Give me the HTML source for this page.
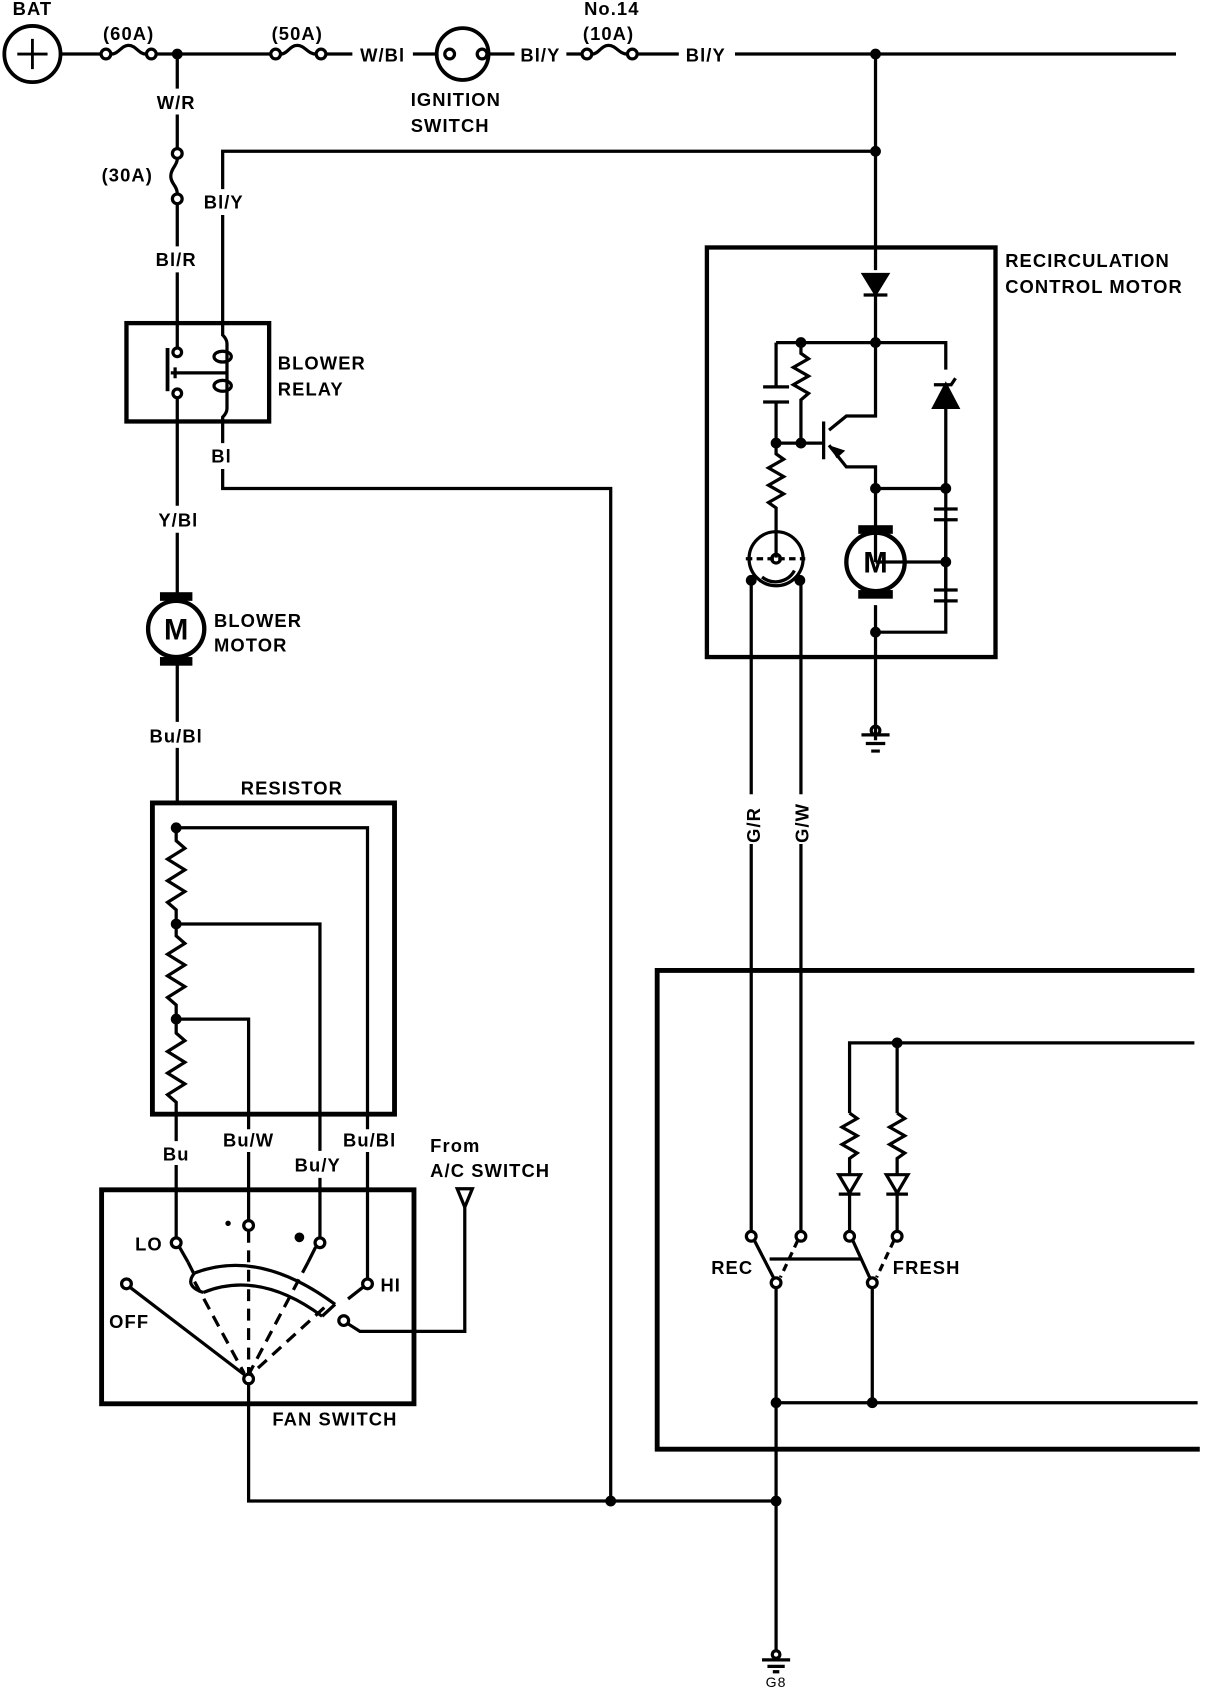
<!DOCTYPE html>
<html><head><meta charset="utf-8"><style>
html,body{margin:0;padding:0;background:#fff;width:1216px;height:1688px;overflow:hidden}
svg{display:block}
text{font-family:"Liberation Sans",sans-serif;font-weight:bold;font-size:17px;fill:#000;letter-spacing:1px}
</style></head><body>
<svg width="1216" height="1688" viewBox="0 0 1125 1562" preserveAspectRatio="none" xmlns="http://www.w3.org/2000/svg">
<g fill="none" stroke="#000" stroke-width="3" stroke-linecap="butt">
<circle cx="30" cy="50" r="26" stroke-width="3.5"/>
<path d="M16 50H44M30 36V64" stroke-width="2.6"/>
<path d="M56 50H93M145 50H250M302 50H326"/>
<circle cx="98" cy="50" r="4.5"/><circle cx="140" cy="50" r="4.5"/>
<path d="M103 50C110 50 112 42 119 42S128 50 135 50"/>
<circle cx="255" cy="50" r="4.5"/><circle cx="297" cy="50" r="4.5"/>
<path d="M260 50C266 50 268 42 275 42S285 50 292 50"/>
<path d="M382 50H404"/>
<circle cx="428" cy="50" r="24" stroke-width="3.5"/>
<circle cx="416" cy="50" r="4.5"/><circle cx="446" cy="50" r="4.5"/>
<path d="M451 50H476M524 50H538M590 50H628M680 50H1088"/>
<circle cx="543" cy="50" r="4.5"/><circle cx="585" cy="50" r="4.5"/>
<path d="M548 50C554 50 556 42 563 42S573 50 580 50"/>
<path d="M164 50V82M164 106V137M164 189V228M164 252V299"/>
<circle cx="164" cy="142" r="4.5"/><circle cx="164" cy="184" r="4.5"/>
<path d="M164 147C164 153 158 156 158 163S164 172 164 179"/>
<path d="M810 140H206V175M206 199V299"/>
<path d="M810 50V250"/>
<rect x="117" y="299" width="132" height="91" stroke-width="4"/>
<path d="M164 299V322M164 368V390"/>
<circle cx="164" cy="326" r="4"/><circle cx="164" cy="364" r="4"/>
<path d="M155 322V362" stroke-width="3.5"/>
<path d="M158 345H210M162 340V350"/>
<path d="M206 299V310Q210 314 210 318V378Q210 382 206 386V390"/>
<ellipse cx="206" cy="330" rx="8" ry="5"/><ellipse cx="206" cy="357" rx="8" ry="5"/>
<path d="M164 390V468M164 493V550M164 614V668M164 692V743"/>
<path d="M206 390V410M206 434V452H565V1389"/>
<circle cx="163" cy="582" r="26" stroke-width="4"/>
<rect x="141" y="743" width="224" height="288" stroke-width="4.5"/>
<path d="M163 766H340V1045M163 855H296V1065M163 943H230V1045"/>
<path d="M163 766V778L171 785L155 795L171 805L155 815L171 825L155 835L163 842V855"/>
<path d="M163 855V866L171 873L155 883L171 893L155 903L171 913L155 923L163 930V943"/>
<path d="M163 943V956L171 963L155 973L171 983L155 993L171 1003L155 1013L163 1020V1056"/>
<path d="M163 1078V1146M230 1066V1129M296 1090V1146M340 1066V1184"/>
<rect x="94" y="1101" width="289" height="198" stroke-width="4.5"/>
<circle cx="163" cy="1150" r="4.5"/><circle cx="230" cy="1134" r="4.5"/><circle cx="296" cy="1150" r="4.5"/>
<circle cx="340" cy="1188" r="4.5"/><circle cx="117" cy="1188" r="4.5"/><circle cx="318" cy="1222" r="4.5"/>
<circle cx="230" cy="1276" r="4.5"/>
<path d="M120 1191L226 1272"/>
<path d="M336 1191L322 1202"/>
<path d="M322 1225L333 1232H430V1117"/>
<path d="M423 1100H437L430 1117Z"/>
<path d="M166 1154L174 1168M292 1154L285 1168" />
<g stroke-dasharray="11 7">
<path d="M230 1139V1272M180 1186L226 1271M285 1168L230 1272M300 1210L232 1272M174 1168L180 1180"/>
</g>
<path d="M180 1178Q240 1155 310 1207M188 1196Q240 1175 298 1218"/>
<path d="M180 1178Q170 1190 188 1196M310 1207L298 1218"/>
<path d="M230 1281V1389H718"/>
<rect x="654" y="229" width="267" height="379" stroke-width="4"/>
<path d="M799 254H821L810 272Z" fill="#000"/>
<path d="M799 273H821"/>
<path d="M810 272V385H783L767 398M767 412L783 432H810V520M810 560V685"/>
<path d="M762 390V425" stroke-width="3"/>
<path d="M718 317H875V342M875 377V585H810"/>
<path d="M864 377H886L875 356Z" fill="#000"/>
<path d="M864 356H880L884 350"/>
<path d="M718 317V358M718 372V410H762M741 317V327L748 332L734 340L748 348L734 356L748 364L741 370V410"/>
<path d="M706 358H730M706 372H730"/>
<path d="M718 410V420L725 425L711 433L725 441L711 449L725 457L711 465L718 470V516"/>
<path d="M810 452H875M810 520H875"/>
<path d="M864 471H886M864 481H886M864 546H886M864 556H886" />
<path d="M875 481V546"/>
<circle cx="810" cy="520" r="27" stroke-width="4"/>
<circle cx="718" cy="517" r="25"/>
<path d="M705 534A20 20 0 0 0 735 528" />
<circle cx="718" cy="517" r="4"/>
<path d="M690 517H745" stroke-dasharray="6 4"/>
<path d="M695 537V1140M741 537L741 555V1140"/>
<path d="M797 680H823M801 688H819M806 695H814"/>
<circle cx="810" cy="676" r="4"/>
<path d="M718 1190V1527"/>
<path d="M705 1536H731M710 1542H726M715 1547H721"/>
<circle cx="718" cy="1531" r="3.5"/>
<path d="M1105 898H608V1341H1110" stroke-width="4.5"/>
<path d="M786 1030V965H1105M830 965V1030"/>
<path d="M786 1030L793 1035L779 1043L793 1051L779 1059L793 1067L786 1072V1087"/>
<path d="M830 1030L837 1035L823 1043L837 1051L823 1059L837 1067L830 1072V1087"/>
<path d="M776 1087H796L786 1104Z M820 1087H840L830 1104Z"/>
<path d="M776 1105H796M820 1105H840"/>
<path d="M786 1105V1139M830 1105V1139"/>
<circle cx="695" cy="1144" r="4.5"/><circle cx="741" cy="1144" r="4.5"/>
<circle cx="786" cy="1144" r="4.5"/><circle cx="830" cy="1144" r="4.5"/>
<circle cx="718" cy="1187" r="4.5"/><circle cx="807" cy="1187" r="4.5"/>
<path d="M698 1148L716 1183M789 1148L805 1183"/>
<path d="M738 1148L722 1182M827 1148L811 1182" stroke-dasharray="7 5"/>
<path d="M712 1165H796"/>
<path d="M807 1192V1298M718 1298H1108"/>
</g>
<g fill="#000">
<rect x="148" y="548" width="30" height="8"/><rect x="148" y="608" width="30" height="8"/>
<rect x="794" y="486" width="32" height="8"/><rect x="794" y="546" width="32" height="8"/>
<circle cx="164" cy="50" r="5"/><circle cx="810" cy="50" r="5"/><circle cx="810" cy="140" r="5"/>
<circle cx="163" cy="766" r="5"/><circle cx="163" cy="855" r="5"/><circle cx="163" cy="943" r="5"/>
<circle cx="211" cy="1132" r="2.5"/><circle cx="277" cy="1145" r="4.5"/>
<circle cx="565" cy="1389" r="5"/><circle cx="718" cy="1389" r="5"/>
<circle cx="741" cy="317" r="5"/><circle cx="810" cy="317" r="5"/><circle cx="718" cy="410" r="5"/><circle cx="741" cy="410" r="5"/>
<circle cx="810" cy="452" r="5"/><circle cx="875" cy="452" r="5"/><circle cx="875" cy="520" r="5"/><circle cx="810" cy="585" r="5"/>
<circle cx="695" cy="537" r="5"/><circle cx="740" cy="537" r="5"/>
<circle cx="830" cy="965" r="5"/><circle cx="718" cy="1298" r="5"/><circle cx="807" cy="1298" r="5"/>
<path d="M767 412L782 417L774 424Z"/>
</g>
<g text-anchor="middle">
<text x="30" y="14">BAT</text>
<text x="119" y="37">(60A)</text>
<text x="275" y="37">(50A)</text>
<text x="354" y="57">W/Bl</text>
<text x="500" y="57">Bl/Y</text>
<text x="566" y="14">No.14</text>
<text x="563" y="37">(10A)</text>
<text x="653" y="57">Bl/Y</text>
<text x="163" y="101">W/R</text>
<text x="163" y="246">Bl/R</text>
<text x="207" y="193">Bl/Y</text>
<text x="205" y="428">Bl</text>
<text x="165" y="487">Y/Bl</text>
<text x="163" y="687">Bu/Bl</text>
<text x="270" y="735">RESISTOR</text>
<text x="163" y="1074">Bu</text>
<text x="230" y="1061">Bu/W</text>
<text x="294" y="1084">Bu/Y</text>
<text x="342" y="1061">Bu/Bl</text>
<text x="163" y="592" style="font-size:27px;letter-spacing:0">M</text>
<text x="810" y="530" style="font-size:27px;letter-spacing:0">M</text>
<text x="718" y="1561" style="font-weight:normal;font-size:13px">G8</text>
</g>
<text x="94" y="168">(30A)</text>
<text x="380" y="98">IGNITION</text>
<text x="380" y="122">SWITCH</text>
<text x="257" y="342">BLOWER</text>
<text x="257" y="366">RELAY</text>
<text x="198" y="580">BLOWER</text>
<text x="198" y="603">MOTOR</text>
<text x="930" y="247">RECIRCULATION</text>
<text x="930" y="271">CONTROL MOTOR</text>
<text x="398" y="1066">From</text>
<text x="398" y="1089">A/C SWITCH</text>
<text x="125" y="1157">LO</text>
<text x="352" y="1195">HI</text>
<text x="101" y="1229">OFF</text>
<text x="252" y="1319">FAN SWITCH</text>
<text x="658" y="1179">REC</text>
<text x="826" y="1179">FRESH</text>
<rect x="688" y="735" width="14" height="46" fill="#fff"/>
<rect x="734" y="735" width="14" height="46" fill="#fff"/>
<text transform="translate(703,780) rotate(-90)">G/R</text>
<text transform="translate(748,780) rotate(-90)">G/W</text>
</svg>
</body></html>
